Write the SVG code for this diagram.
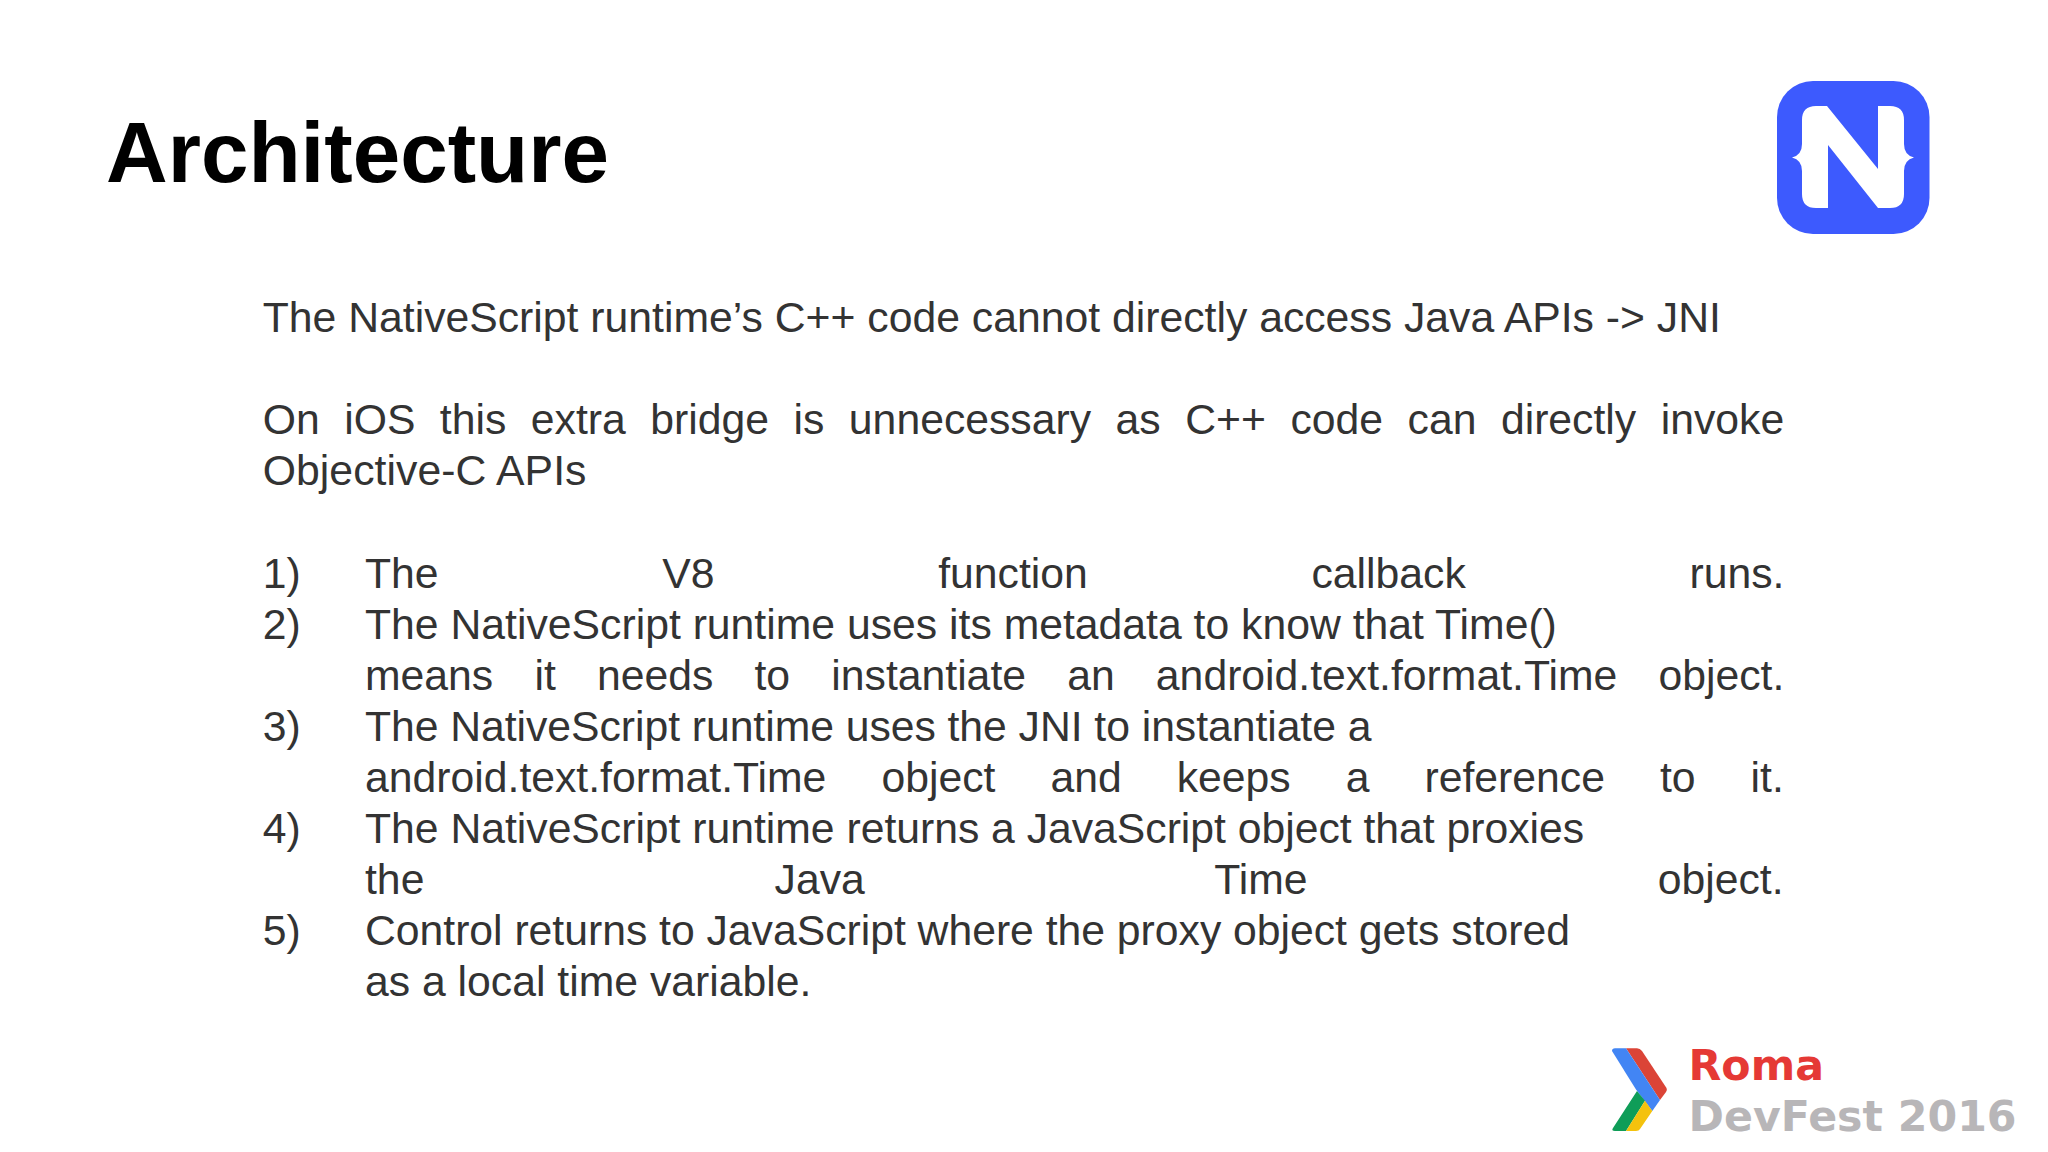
<svg xmlns="http://www.w3.org/2000/svg" width="2048" height="1152" viewBox="0 0 2048 1152">
<style>
.b{font-family:"Liberation Sans",Arial,sans-serif;font-size:42.72px;fill:#333}
.t{font-family:"Liberation Sans",Arial,sans-serif;font-size:85.4px;font-weight:700;fill:#000}
.d{font-family:"DejaVu Sans",sans-serif;font-weight:700;font-size:42.7px}
</style>
<rect width="2048" height="1152" fill="#fff"/>
<text class="t" x="106" y="182">Architecture</text>
<g id="logo-nativescript">
<rect x="1777" y="81" width="152.500" height="153" rx="36" fill="#3d5afe"/>
<path fill="#fff" d="M1792 157.500Q1802 155 1802 144V120Q1802 106 1816 106H1827L1878 169V106H1890Q1904 106 1904 120V144Q1904 155 1914 157.500Q1904 160 1904 171V194Q1904 208 1890 208H1878L1828 145V208H1816Q1802 208 1802 194V171Q1802 160 1792 157.500Z"/>
</g>
<g id="body">
<text class="b" x="262.700" y="331.600">The NativeScript runtime’s C++ code cannot directly access Java APIs -&gt; JNI</text>
<text class="b" x="262.700" y="433.700" word-spacing="12.620">On iOS this extra bridge is unnecessary as C++ code can directly invoke</text>
<text class="b" x="262.700" y="484.900" letter-spacing="0.060">Objective-C APIs</text>
<text class="b" x="262.700" y="587.500">1)</text>
<text class="b" x="365" y="587.500" word-spacing="211.800">The V8 function callback runs.</text>
<text class="b" x="262.700" y="638.600">2)</text>
<text class="b" x="365" y="638.600">The NativeScript runtime uses its metadata to know that Time()</text>
<text class="b" x="365" y="689.700" word-spacing="29.300">means it needs to instantiate an android.text.format.Time object.</text>
<text class="b" x="262.700" y="740.800">3)</text>
<text class="b" x="365" y="740.800" letter-spacing="-0.050">The NativeScript runtime uses the JNI to instantiate a</text>
<text class="b" x="365" y="791.900" word-spacing="43.150">android.text.format.Time object and keeps a reference to it.</text>
<text class="b" x="262.700" y="843">4)</text>
<text class="b" x="365" y="843" letter-spacing="-0.020">The NativeScript runtime returns a JavaScript object that proxies</text>
<text class="b" x="365" y="894.100" word-spacing="338.300">the Java Time object.</text>
<text class="b" x="262.700" y="945.200">5)</text>
<text class="b" x="365" y="945.200" letter-spacing="-0.020">Control returns to JavaScript where the proxy object gets stored</text>
<text class="b" x="365" y="996.300">as a local time variable.</text>
</g>
<g id="logo-devfest">
<path fill="#db4437" d="M1626 1048.300H1637Q1640 1048.300 1642 1051L1666.500 1088Q1667.500 1090 1666 1092L1660 1100Z"/>
<path fill="#4285f4" d="M1612 1051Q1612 1048.300 1615 1048.300H1626L1660 1100L1652.300 1111L1636 1089.500Z"/>
<path fill="#0f9d58" d="M1637 1091L1645 1100.700L1626 1131H1615Q1611 1131 1613 1128Z"/>
<path fill="#f4c20d" d="M1645 1100.700L1652.300 1111L1640 1129Q1639 1131 1636 1131H1626Z"/>
<text class="d" x="1688.500" y="1080" fill="#e53935">Roma</text>
<text class="d" x="1688.500" y="1131" fill="#b8b6b8">DevFest 2016</text>
</g>
</svg>
